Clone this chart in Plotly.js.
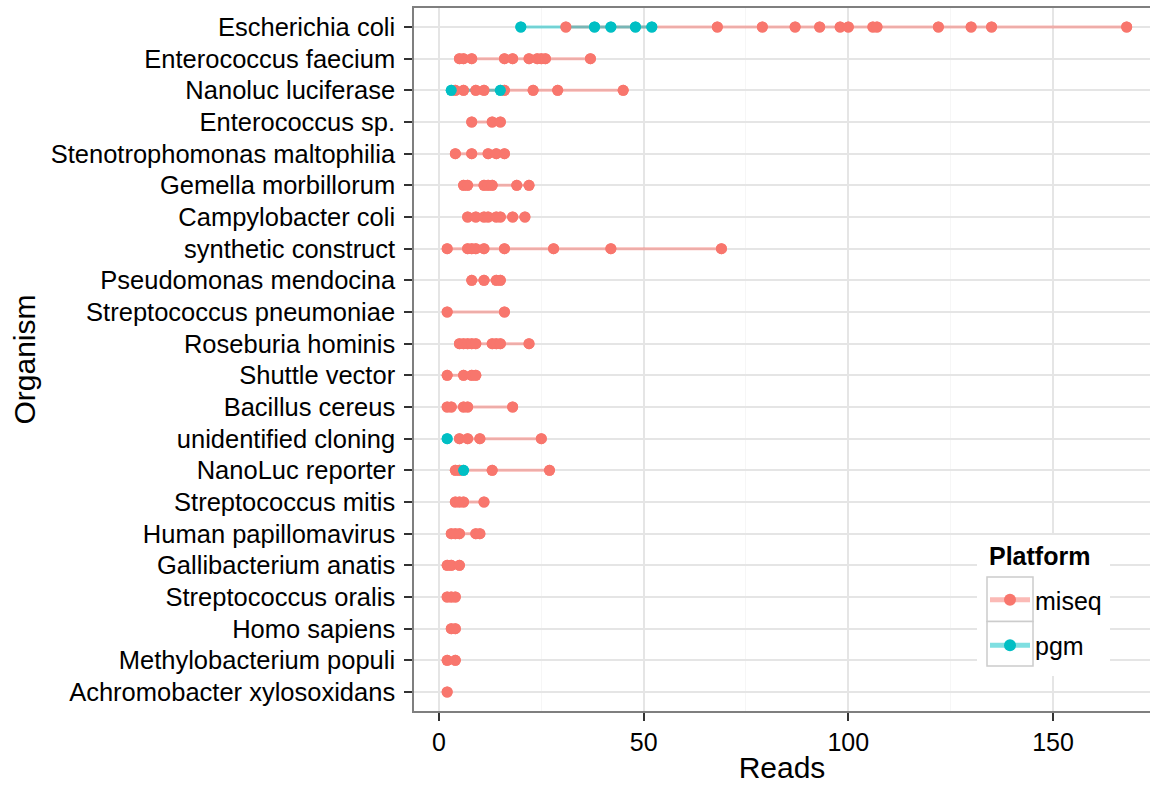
<!DOCTYPE html>
<html><head><meta charset="utf-8">
<script src="https://cdn.plot.ly/plotly-3.0.1.min.js"></script>
<style>body{margin:0;background:#fff}#chart{width:1150px;height:785px}</style>
</head><body><div id="chart"></div><script>
const organisms = [
  "Escherichia coli", "Enterococcus faecium", "Nanoluc luciferase", "Enterococcus sp.",
  "Stenotrophomonas maltophilia", "Gemella morbillorum", "Campylobacter coli",
  "synthetic construct", "Pseudomonas mendocina", "Streptococcus pneumoniae",
  "Roseburia hominis", "Shuttle vector", "Bacillus cereus", "unidentified cloning",
  "NanoLuc reporter", "Streptococcus mitis", "Human papillomavirus",
  "Gallibacterium anatis", "Streptococcus oralis", "Homo sapiens",
  "Methylobacterium populi", "Achromobacter xylosoxidans"
];
// miseq reads per organism (same order as organisms)
const miseqReads = [
  [31, 68, 79, 87, 93, 98, 100, 106, 107, 122, 130, 135, 168],
  [5, 6, 8, 16, 18, 22, 24, 25, 26, 37],
  [4, 6, 9, 11, 16, 23, 29, 45],
  [8, 13, 15],
  [4, 8, 12, 14, 16],
  [6, 7, 11, 12, 13, 19, 22],
  [7, 9, 11, 12, 14, 15, 18, 21],
  [2, 7, 8, 9, 11, 16, 28, 42, 69],
  [8, 11, 14, 15],
  [2, 16],
  [5, 6, 7, 8, 9, 13, 14, 15, 22],
  [2, 6, 8, 9],
  [2, 3, 6, 7, 18],
  [5, 7, 10, 25],
  [4, 5, 13, 27],
  [4, 5, 6, 11],
  [3, 4, 5, 9, 10],
  [2, 3, 5],
  [2, 3, 4],
  [3, 4],
  [2, 4],
  [2]
];
const pgmOrganisms = ["Escherichia coli", "Nanoluc luciferase", "unidentified cloning", "NanoLuc reporter"];
const pgmReads = [
  [20, 38, 42, 48, 52],
  [3, 15],
  [2],
  [6]
];
const xTicks = [0, 50, 100, 150];
const platforms = ["miseq", "pgm"];

function build(orgs, reads) {
  const x = [], y = [];
  orgs.forEach((o, i) => {
    reads[i].forEach(v => { x.push(v); y.push(o); });
    x.push(null); y.push(null);
  });
  return {x, y};
}
const miseq = build(organisms, miseqReads);
const pgm = build(pgmOrganisms, pgmReads);

const cMiseq = "#F8766D", cPgm = "#00BFC4";
const lMiseq = "rgba(248,118,109,0.5)", lPgm = "rgba(0,191,196,0.5)";
const MS = 11;

const traces = [
  {x: miseq.x, y: miseq.y, type: "scatter", mode: "lines+markers", name: platforms[0],
   legendgroup: "miseq", connectgaps: false,
   line: {color: lMiseq, width: 3}, marker: {color: cMiseq, size: MS}, hoverinfo: "x+y"},
  {x: pgm.x, y: pgm.y, type: "scatter", mode: "lines+markers", name: platforms[1],
   legendgroup: "pgm", connectgaps: false,
   line: {color: lPgm, width: 3}, marker: {color: cPgm, size: MS}, hoverinfo: "x+y"},
  {x: miseq.x, y: miseq.y, type: "scatter", mode: "markers", name: platforms[0],
   legendgroup: "miseq", showlegend: false, marker: {color: cMiseq, size: MS}, hoverinfo: "x+y"},
  {x: pgm.x, y: pgm.y, type: "scatter", mode: "markers", name: platforms[1],
   legendgroup: "pgm", showlegend: false, marker: {color: cPgm, size: MS}, hoverinfo: "x+y"}
];

// plot area in pixels: x 414..1150, y 8..711
const PL = 414, PW = 736, PT = 8, PH = 703;
const px = v => (v - PL) / PW;
const py = v => (PT + PH - v) / PH;

const font = "Liberation Sans, Arial, Helvetica, sans-serif";
const layout = {
  width: 1150, height: 785,
  margin: {l: PL, r: 0, t: PT, b: 785 - PT - PH},
  paper_bgcolor: "#fff", plot_bgcolor: "#fff",
  font: {family: font, color: "#000", size: 25},
  showlegend: true,
  xaxis: {
    range: [-6.1, 173.7], tickvals: xTicks, ticktext: xTicks.map(String),
    showgrid: true, gridcolor: "#e5e5e5", gridwidth: 1.5,
    minor: {tickvals: [25, 75, 125], showgrid: true, gridcolor: "#f6f6f6", gridwidth: 1, ticks: ""},
    zeroline: false, showline: true, linecolor: "#7f7f7f", linewidth: 1.5, mirror: true,
    ticks: "outside", ticklen: 8, tickwidth: 2, tickcolor: "#333",
    tickfont: {size: 25, color: "#000"},
    title: {text: "Reads", font: {size: 30, color: "#000"}, standoff: 2}
  },
  yaxis: {
    type: "category", categoryorder: "array", categoryarray: organisms.slice().reverse(),
    range: [-0.6, 21.6],
    showgrid: true, gridcolor: "#e5e5e5", gridwidth: 1.5,
    zeroline: false, showline: true, linecolor: "#7f7f7f", linewidth: 1.5, mirror: false,
    ticks: "outside", ticklen: 8, tickwidth: 2, tickcolor: "#333",
    ticklabelstandoff: 4,
    tickfont: {size: 25.5, color: "#000"},
    title: {text: "Organism", font: {size: 30, color: "#000"}, standoff: 6}
  },
  legend: {
    x: px(985), y: py(577), xanchor: "left", yanchor: "top",
    bgcolor: "rgba(0,0,0,0)", borderwidth: 0,
    font: {size: 25, color: "#000"},
    tracegroupgap: 10, itemsizing: "constant", itemwidth: 40
  },
  shapes: [
    {type: "rect", xref: "paper", yref: "paper", x0: px(977), x1: px(1110), y0: py(535), y1: py(676),
     fillcolor: "#fff", line: {width: 0}, layer: "above"},
    {type: "rect", xref: "paper", yref: "paper", x0: px(987), x1: px(1033), y0: py(577), y1: py(621.5),
     fillcolor: "#fff", line: {color: "#cccccc", width: 1.5}, layer: "above"},
    {type: "rect", xref: "paper", yref: "paper", x0: px(987), x1: px(1033), y0: py(621.5), y1: py(666),
     fillcolor: "#fff", line: {color: "#cccccc", width: 1.5}, layer: "above"}
  ],
  annotations: [
    {text: "<b>Platform</b>", xref: "paper", yref: "paper", x: px(987), y: py(556),
     xanchor: "left", yanchor: "middle", showarrow: false, font: {size: 25, color: "#000"}}
  ]
};
Plotly.newPlot("chart", traces, layout, {displayModeBar: false, responsive: false});
</script></body></html>
